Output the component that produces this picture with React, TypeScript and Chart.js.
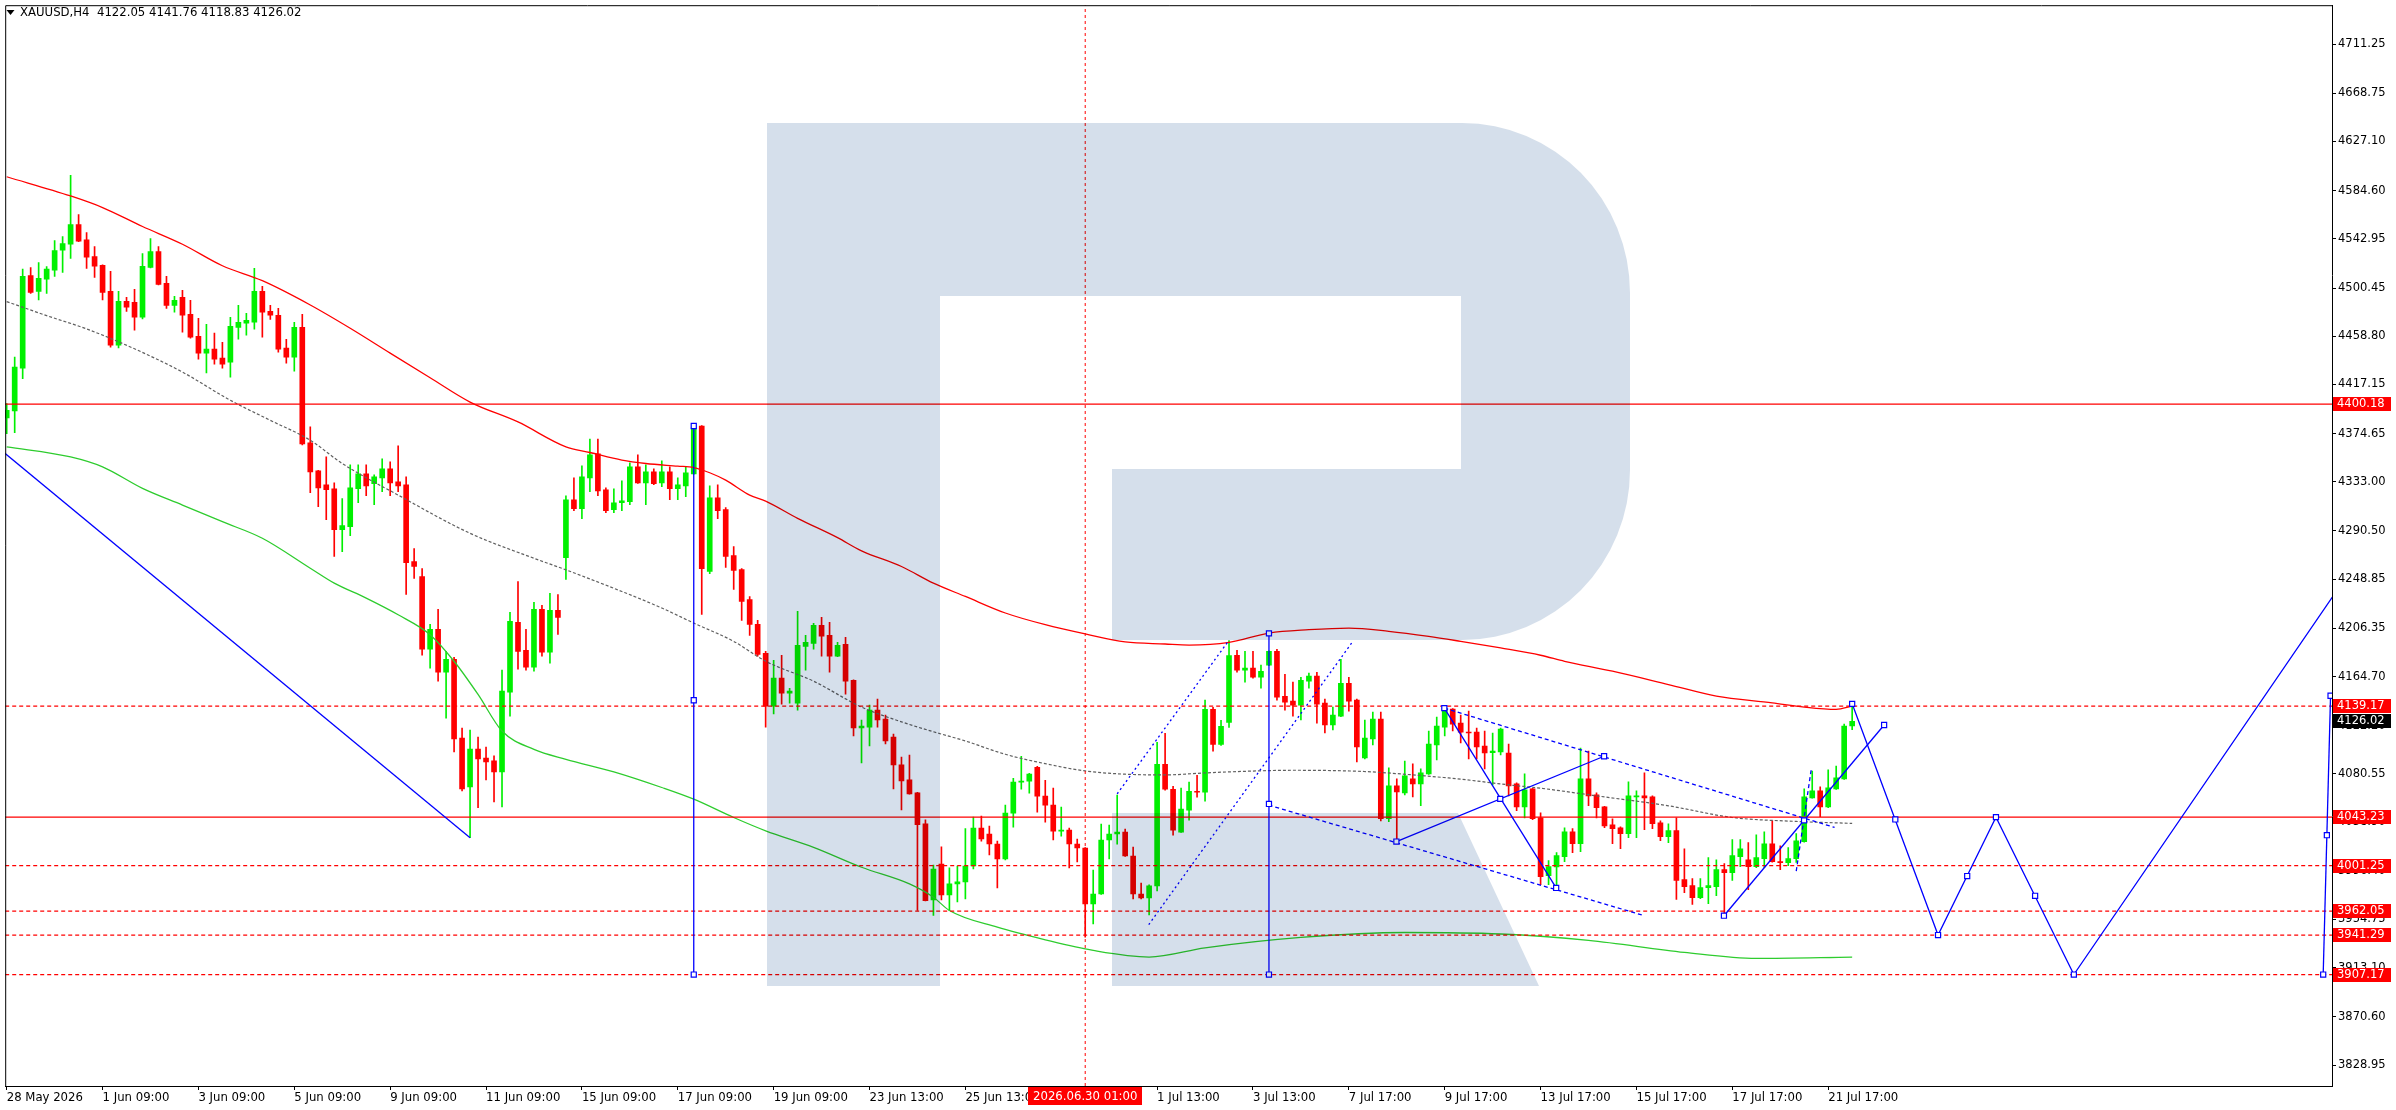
import React, { useEffect, useRef } from 'react';
import { Chart, registerables } from 'chart.js';

Chart.register(...registerables);

// ---------------- DATA ----------------
const symbol = 'XAUUSD';
const timeframe = 'H4';

const opens = [
  4388.1, 4394.2, 4431.2, 4511.3, 4497.6, 4508.2, 4515.9, 4533.2, 4538.3, 4555.3,
  4542.1, 4527.7, 4520.0, 4497.6, 4451.0, 4488.9, 4488.1, 4475.2, 4518.2, 4532.0,
  4504.5, 4485.5, 4492.4, 4477.8, 4458.8, 4444.1, 4447.6, 4439.8, 4436.4, 4466.5,
  4470.0, 4470.9, 4497.6, 4480.3, 4476.9, 4448.5, 4440.7, 4466.5, 4366.6, 4342.5,
  4330.4, 4327.0, 4291.6, 4294.2, 4327.0, 4339.9, 4331.3, 4336.4, 4344.2, 4333.0,
  4330.4, 4264.1, 4251.1, 4188.3, 4205.5, 4168.4, 4179.6, 4111.6, 4069.3, 4102.1,
  4094.3, 4091.8, 4082.3, 4151.2, 4211.5, 4187.4, 4172.7, 4222.7, 4185.7, 4221.9,
  4267.5, 4317.5, 4309.7, 4336.4, 4357.1, 4326.1, 4308.9, 4314.9, 4315.8, 4345.9,
  4332.1, 4341.6, 4332.1, 4341.6, 4327.0, 4329.5, 4339.9, 4381.2, 4255.5, 4319.2,
  4308.9, 4269.2, 4257.2, 4231.3, 4209.8, 4184.8, 4139.1, 4163.3, 4150.3, 4141.7,
  4190.8, 4193.4, 4208.9, 4200.3, 4182.2, 4192.6, 4161.5, 4120.2, 4121.0, 4135.7,
  4127.9, 4112.4, 4088.3, 4075.4, 4064.2, 4037.5, 3971.7, 4002.7, 3976.0, 3985.5,
  3987.2, 4001.0, 4033.7, 4028.6, 4020.0, 4007.0, 4046.7, 4073.4, 4074.2, 4086.3,
  4061.3, 4053.6, 4031.1, 4032.0, 4020.0, 4016.5, 3968.2, 3976.8, 4023.4, 4028.6,
  4030.3, 4009.6, 3976.8, 3973.4, 3983.8, 4088.9, 4067.3, 4030.3, 4049.2, 4065.6,
  4064.7, 4136.3, 4106.1, 4125.1, 4183.1, 4170.2, 4171.9, 4164.1, 4174.5, 4186.5,
  4147.7, 4143.4, 4140.0, 4160.7, 4165.0, 4141.7, 4122.8, 4130.5, 4158.9, 4144.3,
  4094.3, 4110.7, 4127.9, 4041.8, 4070.2, 4064.2, 4076.2, 4071.9, 4080.6, 4105.5,
  4121.0, 4136.5, 4124.5, 4116.7, 4116.7, 4104.7, 4099.0, 4099.5, 4098.6, 4071.9,
  4052.1, 4067.6, 4042.6, 3992.7, 4000.1, 4009.0, 4030.6, 4020.2, 4076.2, 4062.4,
  4052.1, 4036.6, 4034.0, 4028.9, 4060.7, 4061.6, 4060.7, 4038.3, 4026.3, 4031.5,
  3989.2, 3984.0, 3973.7, 3982.3, 3983.2, 3997.8, 3995.3, 4009.0, 4006.4, 4000.4,
  4007.3, 4020.2, 4004.7, 4003.8, 4007.3, 4021.9, 4059.9, 4065.9, 4052.1, 4067.6,
  4076.2, 4122.05,
];

const highs = [
  4400.5, 4440.7, 4516.8, 4518.2, 4522.5, 4519.0, 4541.5, 4544.9, 4597.8, 4563.9,
  4548.4, 4536.3, 4520.5, 4514.8, 4497.6, 4492.4, 4499.3, 4530.3, 4543.2, 4536.3,
  4510.5, 4493.2, 4498.4, 4489.8, 4474.3, 4469.1, 4461.4, 4453.6, 4475.2, 4485.5,
  4478.6, 4517.4, 4501.9, 4485.5, 4482.9, 4456.2, 4470.9, 4477.8, 4380.4, 4343.0,
  4354.5, 4332.1, 4318.4, 4347.6, 4347.6, 4347.6, 4339.0, 4352.8, 4350.2, 4364.0,
  4337.3, 4275.3, 4258.0, 4209.8, 4222.7, 4186.5, 4181.4, 4120.2, 4118.5, 4112.4,
  4103.8, 4096.1, 4170.2, 4220.1, 4246.8, 4205.5, 4228.8, 4226.2, 4236.5, 4235.6,
  4320.9, 4336.4, 4346.8, 4370.0, 4370.0, 4327.8, 4327.0, 4333.9, 4349.4, 4356.3,
  4347.6, 4344.2, 4351.1, 4345.9, 4336.4, 4345.9, 4383.0, 4381.6, 4329.5, 4330.4,
  4310.6, 4277.0, 4258.0, 4233.9, 4213.2, 4186.5, 4178.8, 4183.1, 4154.6, 4221.0,
  4200.3, 4210.6, 4215.8, 4211.5, 4194.3, 4198.6, 4161.9, 4127.1, 4140.0, 4145.2,
  4131.4, 4115.0, 4095.2, 4096.9, 4064.6, 4040.9, 4001.8, 4017.6, 3999.3, 4001.0,
  4033.2, 4043.2, 4044.1, 4035.5, 4022.5, 4053.6, 4076.8, 4095.8, 4081.1, 4087.2,
  4075.1, 4068.2, 4051.8, 4033.7, 4024.3, 4016.9, 3997.5, 4037.2, 4036.3, 4062.2,
  4032.9, 4017.4, 3986.3, 3984.6, 4107.8, 4115.6, 4069.9, 4068.2, 4073.4, 4079.4,
  4144.3, 4138.0, 4126.8, 4195.7, 4187.4, 4186.5, 4186.5, 4174.5, 4187.0, 4188.2,
  4166.7, 4159.8, 4164.1, 4167.6, 4168.4, 4145.2, 4138.3, 4179.6, 4164.1, 4145.2,
  4127.1, 4134.0, 4134.0, 4085.7, 4076.2, 4091.7, 4089.2, 4084.9, 4117.6, 4129.7,
  4138.3, 4136.9, 4131.4, 4134.8, 4120.2, 4117.6, 4115.9, 4120.2, 4106.4, 4072.8,
  4080.6, 4068.0, 4047.0, 4005.6, 4012.5, 4034.0, 4033.2, 4102.9, 4100.3, 4064.2,
  4052.5, 4041.8, 4034.9, 4073.6, 4065.9, 4081.4, 4061.6, 4040.0, 4037.5, 4042.6,
  4015.9, 3990.1, 3990.1, 4008.2, 4006.4, 4003.0, 4023.7, 4023.7, 4021.1, 4028.0,
  4030.6, 4040.0, 4018.5, 4016.8, 4028.9, 4067.6, 4083.1, 4069.3, 4084.0, 4087.4,
  4123.6, 4141.76,
];

const lows = [
  4374.6, 4375.5, 4422.0, 4495.8, 4490.1, 4495.8, 4510.5, 4513.9, 4526.0, 4540.5,
  4517.4, 4509.6, 4490.1, 4449.3, 4448.7, 4480.3, 4464.0, 4473.7, 4517.8, 4503.2,
  4482.9, 4479.5, 4462.2, 4457.1, 4439.0, 4427.0, 4434.7, 4431.2, 4423.5, 4456.2,
  4459.7, 4464.8, 4457.9, 4473.4, 4445.0, 4435.5, 4428.6, 4364.9, 4323.5, 4311.5,
  4300.3, 4268.4, 4272.7, 4286.5, 4314.9, 4320.9, 4313.2, 4324.4, 4320.9, 4324.4,
  4235.6, 4249.4, 4183.1, 4171.9, 4160.7, 4128.8, 4099.5, 4065.9, 4025.4, 4051.3,
  4075.4, 4056.4, 4052.1, 4130.5, 4171.0, 4170.2, 4169.3, 4182.2, 4176.2, 4201.2,
  4248.6, 4308.0, 4301.1, 4324.4, 4320.9, 4306.3, 4306.3, 4308.0, 4313.2, 4331.5,
  4313.2, 4330.4, 4328.7, 4317.5, 4317.5, 4320.1, 4339.5, 4218.4, 4253.7, 4301.1,
  4258.9, 4239.9, 4213.3, 4200.3, 4182.2, 4121.0, 4132.3, 4140.9, 4141.7, 4135.7,
  4170.2, 4188.3, 4182.2, 4168.4, 4181.8, 4149.5, 4113.3, 4090.0, 4104.7, 4121.0,
  4106.4, 4067.6, 4049.5, 4063.0, 3962.5, 3970.8, 3958.2, 3971.7, 3962.5, 3970.0,
  3972.6, 3998.4, 4022.5, 4010.5, 3982.0, 4006.2, 4034.6, 4067.3, 4063.9, 4047.5,
  4038.9, 4023.4, 4026.8, 3999.3, 4004.4, 3939.5, 3951.0, 3976.4, 4007.0, 4019.9,
  4009.2, 3972.6, 3972.6, 3958.8, 3979.5, 4066.5, 4027.7, 4029.9, 4040.6, 4060.4,
  4057.0, 4100.1, 4105.2, 4120.8, 4168.4, 4159.8, 4163.3, 4154.6, 4174.0, 4144.3,
  4135.7, 4130.5, 4127.1, 4154.6, 4124.5, 4115.9, 4118.5, 4130.1, 4134.8, 4090.9,
  4093.5, 4105.5, 4040.0, 4039.2, 4022.0, 4062.4, 4060.7, 4053.0, 4080.2, 4092.6,
  4113.3, 4117.6, 4107.3, 4093.5, 4093.5, 4084.9, 4071.1, 4096.9, 4061.6, 4048.7,
  4042.6, 4040.9, 3984.9, 3984.9, 3982.0, 4004.7, 4012.5, 4013.3, 4053.0, 4042.6,
  4034.0, 4020.2, 4015.9, 4025.4, 4025.4, 4032.3, 4033.2, 4022.8, 4021.1, 3972.0,
  3978.0, 3967.7, 3972.8, 3968.5, 3975.4, 3958.2, 3988.4, 4000.4, 3980.6, 3999.6,
  3999.6, 4004.3, 3997.8, 4001.3, 4004.0, 4021.5, 4059.5, 4043.5, 4051.3, 4067.2,
  4075.8, 4118.83,
];

const closes = [
  4394.7, 4432.1, 4510.5, 4496.7, 4508.8, 4516.8, 4532.9, 4538.9, 4555.3, 4540.9,
  4527.2, 4519.4, 4496.7, 4451.0, 4488.9, 4483.8, 4475.2, 4519.1, 4532.0, 4503.6,
  4485.5, 4489.8, 4476.9, 4457.9, 4444.1, 4447.6, 4439.0, 4434.7, 4467.4, 4470.9,
  4472.6, 4497.6, 4479.5, 4476.9, 4447.6, 4440.7, 4466.5, 4365.7, 4341.6, 4327.8,
  4326.1, 4291.6, 4295.1, 4327.8, 4339.9, 4329.5, 4337.3, 4344.2, 4332.1, 4329.5,
  4263.2, 4259.8, 4188.3, 4205.5, 4168.4, 4179.6, 4110.7, 4067.6, 4102.1, 4093.5,
  4090.9, 4082.3, 4152.1, 4212.4, 4186.5, 4172.7, 4222.7, 4185.7, 4221.9, 4215.8,
  4317.5, 4309.7, 4337.3, 4356.3, 4325.2, 4308.0, 4314.9, 4316.6, 4345.9, 4332.1,
  4341.6, 4331.3, 4341.6, 4327.0, 4330.4, 4340.7, 4380.4, 4258.0, 4319.2, 4308.0,
  4268.4, 4256.3, 4229.6, 4209.8, 4183.9, 4139.1, 4163.3, 4150.3, 4152.1, 4191.7,
  4194.3, 4208.9, 4199.5, 4182.2, 4191.7, 4160.7, 4120.2, 4121.9, 4135.7, 4127.1,
  4109.0, 4088.3, 4074.5, 4063.3, 4036.6, 3971.1, 3998.4, 3976.0, 3985.5, 3987.2,
  4001.0, 4033.7, 4024.3, 4020.0, 4007.0, 4046.7, 4073.4, 4074.2, 4080.3, 4061.3,
  4053.6, 4031.1, 4032.0, 4020.0, 4016.5, 3968.2, 3976.8, 4023.4, 4028.6, 4030.3,
  4009.6, 3976.8, 3973.4, 3983.8, 4088.9, 4067.3, 4032.0, 4050.1, 4065.6, 4064.7,
  4136.3, 4106.1, 4121.6, 4182.8, 4170.2, 4171.9, 4164.1, 4169.3, 4186.5, 4146.9,
  4142.6, 4140.0, 4161.5, 4165.0, 4140.9, 4122.8, 4131.4, 4158.9, 4143.4, 4103.8,
  4111.6, 4127.9, 4041.8, 4070.2, 4065.0, 4078.8, 4071.9, 4081.4, 4106.4, 4121.9,
  4137.4, 4123.6, 4116.7, 4115.9, 4103.8, 4098.6, 4100.3, 4119.3, 4070.2, 4052.1,
  4066.8, 4041.8, 3991.8, 4000.4, 4009.9, 4030.6, 4020.2, 4076.2, 4061.6, 4051.3,
  4035.7, 4033.2, 4028.9, 4061.6, 4061.6, 4059.9, 4037.5, 4026.3, 4031.5, 3988.4,
  3983.2, 3973.7, 3982.3, 3984.0, 3997.8, 3995.3, 4009.9, 4015.9, 4000.4, 4008.2,
  4020.2, 4004.7, 4003.8, 4007.3, 4022.8, 4060.7, 4065.9, 4052.1, 4068.5, 4077.1,
  4121.9, 4126.02,
];

// moving averages (bar index, value)
const redMaX = [0, 8, 12, 17, 22, 27, 32, 38, 43, 48, 53, 58, 64, 70, 73, 77, 80, 84, 86, 88, 90, 93, 95, 99, 104, 107, 112, 116, 120, 125, 130, 135, 140, 145, 148, 153, 158, 163, 168, 173, 178, 182, 187, 192, 195, 201, 208, 214, 221, 225, 229, 231];
const redMaY = [4596.6, 4580.0, 4570.0, 4553.6, 4538.3, 4519.7, 4506.8, 4485.8, 4465.7, 4444.2, 4422.9, 4401.9, 4384.7, 4363.2, 4358.3, 4351.7, 4348.8, 4346.5, 4345.3, 4340.8, 4334.4, 4321.5, 4316.3, 4301.4, 4284.7, 4273.3, 4259.8, 4245.4, 4233.9, 4219.6, 4209.5, 4201.5, 4194.6, 4192.8, 4191.9, 4194.2, 4202.3, 4205.2, 4206.6, 4203.8, 4199.4, 4195.1, 4189.4, 4183.1, 4177.9, 4169.3, 4157.8, 4147.8, 4142.0, 4138.3, 4136.3, 4139.1];

const greenMaX = [0, 8, 12, 17, 22, 27, 32, 38, 41, 45, 49, 53, 56, 59, 62, 66, 70, 76, 82, 86, 91, 95, 101, 107, 113, 116, 118, 124, 130, 136, 143, 150, 162, 175, 187, 198, 210, 219, 231];
const greenMaY = [4363.2, 4354.5, 4345.9, 4327.3, 4312.9, 4298.5, 4284.2, 4258.3, 4245.4, 4232.5, 4218.1, 4200.9, 4177.9, 4149.2, 4117.6, 4101.8, 4093.2, 4082.3, 4068.8, 4058.7, 4042.9, 4031.4, 4017.1, 3999.9, 3985.5, 3974.0, 3962.5, 3948.1, 3937.2, 3928.0, 3922.3, 3930.2, 3939.2, 3943.5, 3942.2, 3936.7, 3926.3, 3921.1, 3922.3];

const grayMaX = [0, 5, 10, 16, 22, 28, 33, 38, 42, 49, 58, 66, 70, 77, 82, 86, 91, 95, 101, 107, 113, 116, 120, 125, 130, 135, 140, 145, 150, 155, 161, 170, 176, 182, 188, 192, 199, 208, 216, 224, 231];
const grayMaY = [4488.7, 4476.6, 4465.1, 4447.9, 4427.8, 4403.4, 4386.1, 4368.9, 4348.8, 4321.5, 4288.5, 4266.9, 4256.9, 4238.2, 4223.9, 4210.9, 4195.1, 4177.9, 4160.7, 4138.3, 4123.3, 4117.0, 4109.0, 4097.5, 4089.4, 4083.1, 4080.3, 4079.7, 4081.4, 4082.8, 4083.7, 4082.6, 4079.7, 4076.0, 4071.1, 4068.2, 4061.6, 4053.0, 4042.9, 4039.5, 4037.8];

// horizontal price levels
const solidLevels = [4400.18, 4043.23];
const dashedLevels = [4139.17, 4001.25, 3962.05, 3941.29, 3907.17];
const currentPrice = 4126.02;
const cursorBar = 135;
const cursorLabel = '2026.06.30 01:00';

// drawn trend lines (bar index, price)
const trendSolid = [
  [[-1, 4362.0], [58, 4025.4]],
  [[86, 4381.2], [86, 3907.17]],
  [[158, 4202.0], [158, 3907.17]],
  [[173.95, 4022.1], [199.95, 4095.8]],
  [[179.95, 4137.4], [193.95, 3982.0]],
  [[214.95, 3958.0], [235.0, 4122.8]],
  [[231, 4141.1], [241.75, 3941.29], [249.0, 4043.23], [258.75, 3907.17], [293, 4252.4]],
  [[289.96, 3907.17], [290.88, 4148.1]],
];
const trendDotted = [
  [[139.0, 4063.3], [152.9, 4195.1]],
  [[142.95, 3950.3], [168.5, 4195.1]],
];
const trendDashed = [
  [[157.95, 4053.6], [204.9, 3958.2]],
  [[179.95, 4137.4], [228.8, 4034.3]],
  [[224.0, 3996.5], [225.9, 4085.5]],
];
const anchorPoints = [
  [86, 4381.2], [86, 4144.2], [86, 3907.17],
  [158, 4202.0], [158, 4054.6], [158, 3907.17],
  [173.95, 4022.1], [186.95, 4058.95], [199.95, 4095.8],
  [179.95, 4137.4], [193.95, 3982.0],
  [214.95, 3958.0], [224.98, 4040.4], [235.0, 4122.8],
  [231, 4141.1], [236.4, 4041.2], [241.75, 3941.29], [245.4, 3992.3], [249.0, 4043.23], [253.9, 3975.2], [258.75, 3907.17],
  [289.96, 3907.17], [290.42, 4027.6], [290.88, 4148.1],
];

// axes
const xTickBars = [0, 12, 24, 36, 48, 60, 72, 84, 96, 108, 120, 132, 144, 156, 168, 180, 192, 204, 216, 228];
const xTickLabels = ['28 May 2026', '1 Jun 09:00', '3 Jun 09:00', '5 Jun 09:00', '9 Jun 09:00', '11 Jun 09:00', '15 Jun 09:00', '17 Jun 09:00', '19 Jun 09:00', '23 Jun 13:00', '25 Jun 13:00', '29 Jun 13:00', '1 Jul 13:00', '3 Jul 13:00', '7 Jul 17:00', '9 Jul 17:00', '13 Jul 17:00', '15 Jul 17:00', '17 Jul 17:00', '21 Jul 17:00'];
const yTickValues = [4711.25, 4668.75, 4627.10, 4584.60, 4542.95, 4500.45, 4458.80, 4417.15, 4374.65, 4333.00, 4290.50, 4248.85, 4206.35, 4164.70, 4122.20, 4080.55, 4038.90, 3996.40, 3954.75, 3913.10, 3870.60, 3828.95];
const xMin = -0.1875;
const xMax = 291.0625;
const yMin = 3810.85;
const yMax = 4744.85;

// ---------------- STYLE ----------------
const W = 2396;
const H = 1110;
const UP = '#00f000';
const DOWN = '#ff0000';
const BLUE = '#0000ff';
const NARROW = '"DejaVu Sans Condensed", "Liberation Sans Narrow", "DejaVu Sans", sans-serif';
const AXISFONT = '"DejaVu Sans", "Liberation Sans", sans-serif';

const pts = (arr: number[][]) => arr.map(([x, y]) => ({ x, y }));

function buildDatasets(): any[] {
  const idx = opens.map((_, i) => i);
  const colors = idx.map((i) => (closes[i] >= opens[i] ? UP : DOWN));
  const ds: any[] = [];
  ds.push({
    type: 'bar',
    data: idx.map((i) => ({ x: i, y: [lows[i], highs[i]] })),
    backgroundColor: colors,
    barThickness: 1,
    grouped: false,
    borderWidth: 0,
    order: 30,
  });
  ds.push({
    type: 'bar',
    data: idx.map((i) => ({ x: i, y: [Math.min(opens[i], closes[i]), Math.max(opens[i], closes[i])] })),
    backgroundColor: colors,
    barThickness: 5,
    minBarLength: 1,
    grouped: false,
    borderWidth: 0,
    order: 29,
  });
  const ma = (xs: number[], ys: number[], color: string, dash: number[] | undefined, w: number) => ({
    type: 'line',
    data: xs.map((x, i) => ({ x, y: ys[i] })),
    borderColor: color,
    borderWidth: w,
    borderDash: dash,
    pointRadius: 0,
    cubicInterpolationMode: 'monotone',
    order: 20,
  });
  ds.push(ma(redMaX, redMaY, '#ff0000', undefined, 1.3));
  ds.push(ma(greenMaX, greenMaY, '#2ecc2e', undefined, 1.3));
  ds.push(ma(grayMaX, grayMaY, '#606060', [3, 2], 1.2));
  solidLevels.forEach((v) =>
    ds.push({ type: 'line', data: [{ x: xMin, y: v }, { x: xMax, y: v }], borderColor: '#ff0000', borderWidth: 1.2, pointRadius: 0, order: 15 })
  );
  dashedLevels.forEach((v) =>
    ds.push({ type: 'line', data: [{ x: xMin, y: v }, { x: xMax, y: v }], borderColor: '#ff0000', borderWidth: 1.2, borderDash: [4, 3], pointRadius: 0, order: 15 })
  );
  ds.push({ type: 'line', data: [{ x: cursorBar, y: yMin }, { x: cursorBar, y: yMax }], borderColor: '#ff0000', borderWidth: 1, borderDash: [3, 3], pointRadius: 0, order: 15 });
  trendSolid.forEach((l) => ds.push({ type: 'line', data: pts(l), borderColor: BLUE, borderWidth: 1.3, pointRadius: 0, order: 5 }));
  trendDotted.forEach((l) => ds.push({ type: 'line', data: pts(l), borderColor: BLUE, borderWidth: 1.3, borderDash: [2, 3], pointRadius: 0, order: 5 }));
  trendDashed.forEach((l) => ds.push({ type: 'line', data: pts(l), borderColor: BLUE, borderWidth: 1.3, borderDash: [4, 3], pointRadius: 0, order: 5 }));
  ds.push({
    type: 'line',
    data: pts(anchorPoints),
    showLine: false,
    pointStyle: 'rect',
    pointRadius: 3.6,
    pointBackgroundColor: '#ffffff',
    pointBorderColor: BLUE,
    pointBorderWidth: 1.2,
    order: 1,
  });
  return ds;
}

const backgroundPlugin = {
  id: 'bg',
  beforeDraw(chart: any) {
    const ctx = chart.ctx;
    ctx.save();
    ctx.fillStyle = '#ffffff';
    ctx.fillRect(0, 0, chart.width, chart.height);
    ctx.restore();
  },
};

const logoPlugin = {
  id: 'logo',
  afterDatasetsDraw(chart: any) {
    const ctx = chart.ctx;
    ctx.save();
    ctx.globalCompositeOperation = 'multiply';
    ctx.fillStyle = 'rgb(213,223,235)';
    ctx.beginPath();
    ctx.rect(767, 123, 173, 863);
    ctx.moveTo(940, 123);
    ctx.lineTo(1462, 123);
    ctx.ellipse(1462, 293, 168, 170, 0, -Math.PI / 2, 0);
    ctx.lineTo(1630, 470);
    ctx.ellipse(1462, 470, 168, 170, 0, 0, Math.PI / 2);
    ctx.lineTo(1112, 640);
    ctx.lineTo(1112, 469);
    ctx.lineTo(1461, 469);
    ctx.lineTo(1461, 296);
    ctx.lineTo(940, 296);
    ctx.closePath();
    ctx.moveTo(1112, 813);
    ctx.lineTo(1458, 813);
    ctx.lineTo(1539, 986);
    ctx.lineTo(1112, 986);
    ctx.closePath();
    ctx.fill();
    ctx.restore();
  },
};

const overlayPlugin = {
  id: 'overlay',
  afterDraw(chart: any) {
    const ctx = chart.ctx;
    const area = chart.chartArea;
    const ys = chart.scales.y;
    const xs = chart.scales.x;
    ctx.save();
    // frame
    ctx.strokeStyle = '#000';
    ctx.lineWidth = 1;
    ctx.beginPath();
    ctx.moveTo(area.left + 0.5, area.bottom);
    ctx.lineTo(area.left + 0.5, area.top + 0.5);
    ctx.lineTo(area.right + 0.5, area.top + 0.5);
    ctx.stroke();
    // title
    ctx.fillStyle = '#000';
    ctx.beginPath();
    ctx.moveTo(6.5, 10);
    ctx.lineTo(14.5, 10);
    ctx.lineTo(10.5, 15);
    ctx.closePath();
    ctx.fill();
    const n = closes.length - 1;
    const title = `${symbol},${timeframe}  ${opens[n].toFixed(2)} ${highs[n].toFixed(2)} ${lows[n].toFixed(2)} ${closes[n].toFixed(2)}`;
    ctx.font = `13px ${NARROW}`;
    ctx.textBaseline = 'middle';
    ctx.textAlign = 'left';
    ctx.fillText(title, 20, 13);
    // price boxes
    ctx.font = `11.5px ${AXISFONT}`;
    const boxes: [number, string][] = [
      ...solidLevels.map((v) => [v, '#ff0000'] as [number, string]),
      ...dashedLevels.map((v) => [v, '#ff0000'] as [number, string]),
      [currentPrice, '#000000'],
    ];
    boxes.forEach(([v, c]) => {
      const y = Math.round(ys.getPixelForValue(v));
      ctx.fillStyle = c;
      ctx.fillRect(area.right + 1, y - 7, 58, 14);
      ctx.fillStyle = '#ffffff';
      ctx.fillText(v.toFixed(2), area.right + 5, y + 0.5);
    });
    // cursor time box
    const cx = xs.getPixelForValue(cursorBar);
    ctx.font = `13px ${NARROW}`;
    const tw = ctx.measureText(cursorLabel).width;
    ctx.fillStyle = '#ff0000';
    ctx.fillRect(Math.round(cx - tw / 2 - 5), area.bottom + 1, Math.round(tw + 10), 18);
    ctx.fillStyle = '#ffffff';
    ctx.textAlign = 'center';
    ctx.fillText(cursorLabel, cx, area.bottom + 10.5);
    ctx.restore();
  },
};

export default function App() {
  const ref = useRef<HTMLCanvasElement>(null);
  useEffect(() => {
    const canvas = ref.current;
    if (!canvas) return;
    const chart = new Chart(canvas, {
      type: 'line',
      data: { datasets: buildDatasets() },
      options: {
        responsive: false,
        animation: false,
        devicePixelRatio: 1,
        events: [],
        layout: { padding: { left: 2, top: 2, right: 0, bottom: 0 } },
        plugins: { legend: { display: false }, tooltip: { enabled: false }, title: { display: false } },
        scales: {
          x: {
            type: 'linear',
            position: 'bottom',
            min: xMin,
            max: xMax,
            offset: false,
            afterBuildTicks: (s: any) => {
              s.ticks = xTickBars.map((v) => ({ value: v }));
            },
            afterFit: (s: any) => {
              s.height = 24;
              s.paddingLeft = 0;
              s.paddingRight = 0;
            },
            grid: { display: true, drawOnChartArea: false, drawTicks: true, tickLength: 4, color: '#000', offset: false },
            border: { display: true, color: '#000', width: 1 },
            ticks: {
              autoSkip: false,
              maxRotation: 0,
              minRotation: 0,
              align: 'start',
              padding: 0,
              color: '#000',
              font: { family: NARROW, size: 13 },
              callback: (_v: any, i: number) => xTickLabels[i],
            },
          },
          y: {
            type: 'linear',
            position: 'right',
            min: yMin,
            max: yMax,
            afterBuildTicks: (s: any) => {
              s.ticks = yTickValues.map((v) => ({ value: v }));
            },
            afterFit: (s: any) => {
              s.width = 64;
              s.paddingTop = 0;
              s.paddingBottom = 0;
            },
            grid: { display: true, drawOnChartArea: false, drawTicks: true, tickLength: 4, color: '#000' },
            border: { display: true, color: '#000', width: 1 },
            ticks: {
              autoSkip: false,
              padding: 2,
              color: '#000',
              font: { family: AXISFONT, size: 11.5 },
              callback: (v: any) => Number(v).toFixed(2),
            },
          },
        },
      } as any,
      plugins: [backgroundPlugin, logoPlugin, overlayPlugin],
    });
    return () => chart.destroy();
  }, []);
  return (
    <div style={{ position: 'fixed', left: 0, top: 0, width: W, height: H, background: '#fff' }}>
      <canvas ref={ref} width={W} height={H} style={{ display: 'block', width: W, height: H }} />
    </div>
  );
}
